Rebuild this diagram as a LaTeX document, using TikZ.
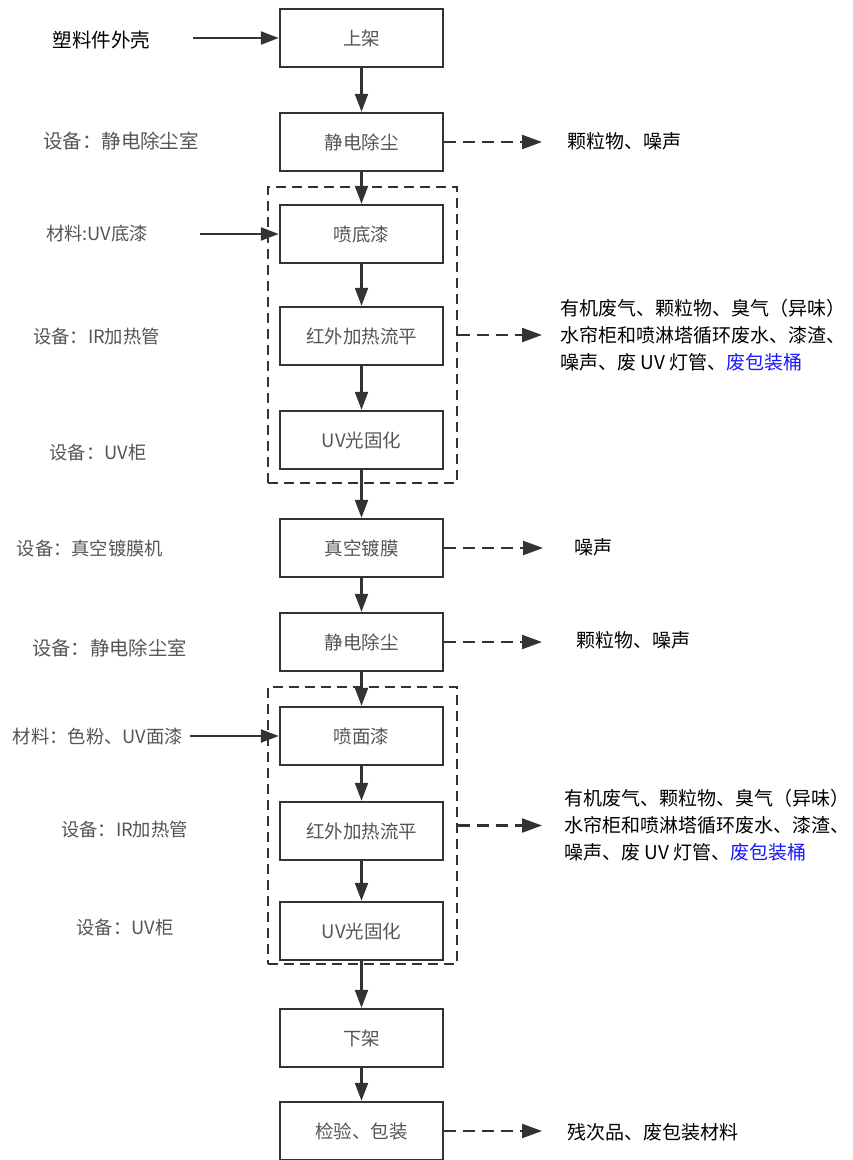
\documentclass[tikz,border=0pt]{standalone}
\usepackage{fontspec}
\newfontfamily\cjk{Noto Sans CJK SC}
\usepackage{xcolor}
\usepackage{tikz}
\usetikzlibrary{arrows.meta,positioning}
\definecolor{boxtext}{HTML}{555555}
\definecolor{linegray}{HTML}{333333}
\definecolor{linkblue}{HTML}{1A1AFF}

\begin{document}
\begin{tikzpicture}[x=1pt,y=-1pt]
	\tikzstyle{every node} = [font = \cjk]
	\tikzstyle{proc} = [draw = linegray, line width = 2.4pt, minimum width = 163pt, minimum height = 58pt, text = boxtext, font = \cjk\fontsize{18.5}{20}\selectfont]
	\tikzstyle{frame} = [draw = linegray, line width = 2.2pt, dash pattern = on 10pt off 6pt, minimum width = 189pt]
	\tikzstyle{flow} = [draw = linegray, line width = 2.2pt, -{Triangle[length = 18pt, width = 13pt]}]
	\tikzstyle{waste} = [draw = linegray, line width = 2.2pt, dash pattern = on 12pt off 7pt, -{Triangle[length = 20pt, width = 14pt, sep = 0pt]}]
	\tikzstyle{lab} = [text = boxtext, inner sep = 0pt, font = \cjk\fontsize{18.3}{22}\selectfont]
	\tikzstyle{outtext} = [anchor = west, align = left, inner sep = 0pt, font = \cjk\fontsize{19}{27}\selectfont]
\useasboundingbox (0, 0) rectangle (852, 1160);
\fill[white] (0, 0) rectangle (852, 1160);
% process boxes
\node[proc] (0) at (361.5, 38) {上架};
\node[proc] (1) at (361.5, 142) {静电除尘};
\node[proc] (2) at (361.5, 234) {喷底漆};
\node[proc] (3) at (361.5, 336) {红外加热流平};
\node[proc] (4) at (361.5, 440) {UV光固化};
\node[proc] (5) at (361.5, 548) {真空镀膜};
\node[proc] (6) at (361.5, 642) {静电除尘};
\node[proc] (7) at (361.5, 736) {喷面漆};
\node[proc] (8) at (361.5, 831) {红外加热流平};
\node[proc] (9) at (361.5, 931) {UV光固化};
\node[proc] (10) at (361.5, 1038) {下架};
\node[proc] (11) at (361.5, 1131) {检验、包装};
% dashed groups
\node[frame, minimum height = 296pt] (fa) at (362.5, 335) {};
\node[frame, minimum height = 277pt] (fb) at (362.5, 825.5) {};
% left side
\node[lab, text = black, font = \cjk\fontsize{19.5}{22}\selectfont] (in0) at (101.5, 40) {塑料件外壳};
\node[lab, font = \cjk\fontsize{19.5}{22}\selectfont] (eq1) at (121, 141) {设备：静电除尘室};
\node[lab] (in2) at (97, 234) {材料:UV底漆};
\node[lab] (eq3) at (96.5, 337) {设备：IR加热管};
\node[lab] (eq4) at (98, 453) {设备：UV柜};
\node[lab] (eq5) at (90, 549) {设备：真空镀膜机};
\node[lab, font = \cjk\fontsize{19.3}{22}\selectfont] (eq6) at (109.5, 648) {设备：静电除尘室};
\node[lab] (in7) at (98, 737) {材料：色粉、UV面漆};
\node[lab] (eq8) at (124.5, 830) {设备：IR加热管};
\node[lab] (eq9) at (125, 928) {设备：UV柜};
\coordinate (s0) at (193, 38);
\coordinate (s2) at (200, 234);
\coordinate (s7) at (190, 736);
% right side
\node[outtext] (o1) at (567, 141) {颗粒物、噪声};
\node[outtext] (oa) at (560, 335) {有机废气、颗粒物、臭气（异味）\\水帘柜和喷淋塔循环废水、漆渣、\\噪声、废 UV 灯管、{\color{linkblue}废包装桶}};
\node[outtext] (o5) at (574, 547) {噪声};
\node[outtext] (o6) at (576, 640) {颗粒物、噪声};
\node[outtext] (ob) at (564, 825) {有机废气、颗粒物、臭气（异味）\\水帘柜和喷淋塔循环废水、漆渣、\\噪声、废 UV 灯管、{\color{linkblue}废包装桶}};
\node[outtext] (o11) at (567, 1132) {残次品、废包装材料};
\coordinate (t1) at (542, 142);
\coordinate (ta) at (542, 335);
\coordinate (t5) at (543, 548);
\coordinate (t6) at (542, 642);
\coordinate (tb) at (542, 825.5);
\coordinate (t11) at (542, 1131);
	\path[flow] (0) -- (1);
	\path[flow] (1) -- (2);
	\path[flow] (2) -- (3);
	\path[flow] (3) -- (4);
	\path[flow] (4) -- (5);
	\path[flow] (5) -- (6);
	\path[flow] (6) -- (7);
	\path[flow] (7) -- (8);
	\path[flow] (8) -- (9);
	\path[flow] (9) -- (10);
	\path[flow] (10) -- (11);
 \path[flow] (s0) -- (0);
 \path[flow] (s2) -- (2);
 \path[flow] (s7) -- (7);
	\path[waste] (1.east) -- (t1);
	\path[waste] (fa.east) -- (ta);
	\path[waste] (5.east) -- (t5);
	\path[waste] (6.east) -- (t6);
	\path[waste] (fb.east) -- (tb);
	\path[waste] (11.east) -- (t11);
\end{tikzpicture}
\end{document}
